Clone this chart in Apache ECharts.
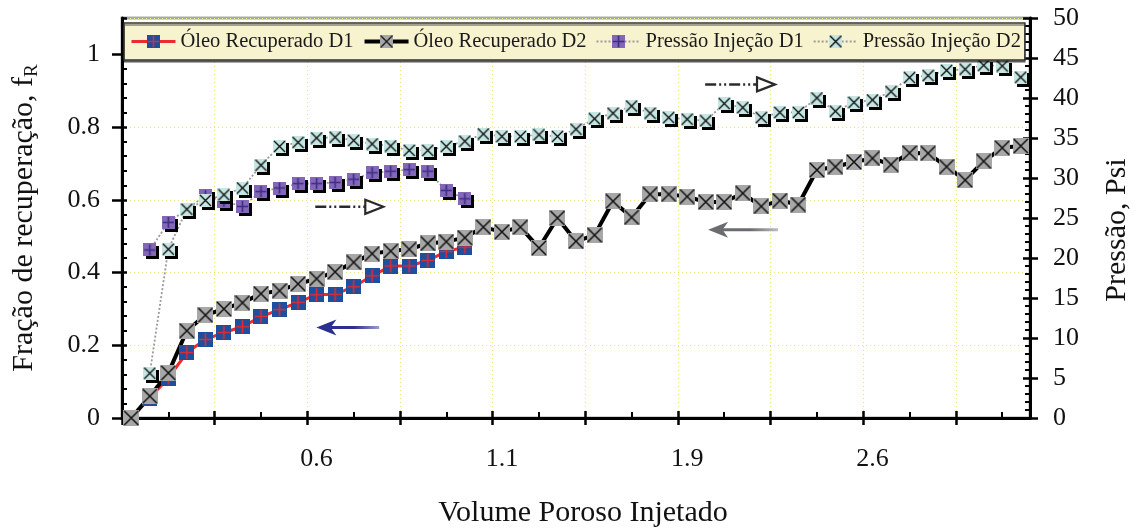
<!DOCTYPE html>
<html lang="pt">
<head>
<meta charset="utf-8">
<title>Fração de recuperação e pressão de injeção</title>
<script src="https://cdn.jsdelivr.net/npm/echarts@6/dist/echarts.min.js"></script>
<style>
  html, body { margin: 0; padding: 0; background: #ffffff; }
  #chart { width: 1135px; height: 528px; }
</style>
</head>
<body>
<div id="chart"></div>
<script>
// ---- data -------------------------------------------------------------
// one category band per measurement step along the injected pore volume
const sampleCount = 49;
const samples = [];
for (let i = 0; i < sampleCount; i++) samples.push(String(i));

// pore-volume labels shown under the axis, and the step each one sits on
const pvTickAt = [10, 20, 30, 40];
const pvTickLabels = ['0.6', '1.1', '1.9', '2.6'];

// recovery fraction (left axis)
const oilD1 = [0, 0.055, 0.11, 0.18, 0.216, 0.235, 0.251, 0.279, 0.298, 0.318,
  0.339, 0.340, 0.361, 0.391, 0.418, 0.418, 0.433, 0.458, 0.470];
const oilD2 = [0, 0.06, 0.124, 0.240, 0.283, 0.300, 0.317, 0.342, 0.350, 0.369,
  0.383, 0.402, 0.428, 0.452, 0.459, 0.464, 0.480, 0.485, 0.496, 0.525,
  0.512, 0.525, 0.468, 0.550, 0.486, 0.503, 0.596, 0.552, 0.615, 0.615,
  0.609, 0.594, 0.594, 0.618, 0.582, 0.598, 0.587, 0.682, 0.691, 0.704,
  0.714, 0.697, 0.729, 0.728, 0.691, 0.654, 0.706, 0.743, 0.748];

// injection pressure in psi (right axis)
const presD1 = [null, 21.0, 24.45, 26.1, 27.8, 27.1, 26.45, 28.3, 28.75, 29.3,
  29.3, 29.45, 29.85, 30.65, 30.85, 31.05, 30.85, 28.45, 27.4];
const presD2 = [null, 5.6, 21.1, 26.1, 27.2, 27.9, 28.75, 31.6, 33.95, 34.45,
  35.0, 35.1, 34.7, 34.25, 34.0, 33.45, 33.45, 33.95, 34.6, 35.5,
  35.2, 35.2, 35.4, 35.2, 36.1, 37.4, 38.1, 39.0, 38.1, 37.55,
  37.35, 37.15, 39.3, 38.8, 37.55, 38.2, 38.2, 40.0, 38.35, 39.45,
  39.75, 40.8, 42.55, 42.8, 43.45, 43.6, 44.1, 44.0, 42.6];

const seriesNames = ['Óleo Recuperado D1', 'Óleo Recuperado D2', 'Pressão Injeção D1', 'Pressão Injeção D2'];

// ---- styling helpers ---------------------------------------------------
const FONT = '"Liberation Serif", "Times New Roman", serif';
const GRID_COLOR = '#f4dc92';
const INK = '#111111';

// square marker with a cross drawn over it, returned as an image symbol
function squareMarker(size, fill, mark, markColor, markWidth) {
  const c = document.createElement('canvas');
  c.width = size; c.height = size;
  const g = c.getContext('2d');
  g.fillStyle = fill;
  g.fillRect(0, 0, size, size);
  g.strokeStyle = markColor;
  g.lineWidth = markWidth;
  g.beginPath();
  if (mark === 'plus') {
    const m = size / 2;
    g.moveTo(m, 1); g.lineTo(m, size - 1);
    g.moveTo(1, m); g.lineTo(size - 1, m);
  } else {
    g.moveTo(1, 1); g.lineTo(size - 1, size - 1);
    g.moveTo(size - 1, 1); g.lineTo(1, size - 1);
  }
  g.stroke();
  return 'image://' + c.toDataURL();
}

const symOilD1 = squareMarker(15, '#1d4f9e', 'plus', '#e42a31', 1.6);
const symOilD2 = squareMarker(16, '#a7a7a7', 'cross', '#111111', 1.5);
const symPresD1 = squareMarker(13, '#8467b6', 'plus', '#3b2d88', 1.6);
const symPresD2 = squareMarker(13, '#c5e6e2', 'cross', '#111111', 1.4);

// tick positions of the band axis (5 steps per major division)
const majorBands = [];
for (let b = 0; b <= 45; b += 5) majorBands.push(b);
const minorBands = majorBands.map(b => b + 2.5);

const chart = echarts.init(document.getElementById('chart'), null, { renderer: 'canvas' });

const bandAxisBase = {
  type: 'value', min: 0, max: sampleCount, position: 'bottom',
  axisLine: { show: false, onZero: false },
  axisLabel: { show: false },
  splitLine: { show: false },
  minorTick: { show: false }
};

const gridLineStyle = { color: GRID_COLOR, type: [1, 3], width: 1 };

const option = {
  animation: false,
  backgroundColor: '#ffffff',
  textStyle: { fontFamily: FONT },
  grid: {
    left: 122, right: 105, top: 18, bottom: 110,
    outerBoundsMode: 'none',
    show: true, borderColor: '#a9a9a9', borderWidth: 3, backgroundColor: 'transparent'
  },
  legend: {
    data: seriesNames,
    left: 124, top: 23,
    orient: 'horizontal',
    itemGap: 9, itemWidth: 44, itemHeight: 17,
    padding: [8, 4, 8, 6],
    backgroundColor: '#f8f3cf',
    borderColor: '#333333', borderWidth: 1.5,
    shadowColor: 'rgba(0,0,0,0.45)', shadowOffsetX: 0, shadowOffsetY: 2, shadowBlur: 0,
    selectedMode: false,
    lineStyle: { width: 'inherit' },
    textStyle: { fontFamily: FONT, fontSize: 20.5, color: '#1a1a1a' }
  },
  xAxis: [
    {
      // measurement steps; carries the pore-volume labels
      type: 'category', data: samples, boundaryGap: true, position: 'bottom',
      axisLine: { show: false, onZero: false },
      axisTick: { show: false },
      splitLine: { show: false },
      axisLabel: {
        interval: (i) => pvTickAt.indexOf(i) >= 0,
        formatter: (v, i) => { const k = pvTickAt.indexOf(i); return k >= 0 ? pvTickLabels[k] : ''; },
        margin: 28, fontSize: 26, color: INK, fontFamily: FONT
      },
      name: 'Volume Poroso Injetado', nameLocation: 'middle', nameGap: 80,
      nameTextStyle: { fontFamily: FONT, fontSize: 30, color: INK, padding: [0, 0, 0, 14] }
    },
    Object.assign({}, bandAxisBase, {
      // axis line, inner major ticks and vertical grid lines
      interval: 5,
      axisLine: { show: true, onZero: false, lineStyle: { color: '#000', width: 3 } },
      axisTick: { show: true, inside: true, length: 7, lineStyle: { color: '#000', width: 2.5 } },
      splitLine: { show: true, lineStyle: gridLineStyle }
    }),
    Object.assign({}, bandAxisBase, {
      // outer part of the major ticks
      axisTick: { show: true, inside: false, length: 7, customValues: majorBands, lineStyle: { color: '#000', width: 2.5 } }
    }),
    Object.assign({}, bandAxisBase, {
      // minor ticks halfway between majors
      axisTick: { show: true, inside: true, length: 6, customValues: minorBands, lineStyle: { color: '#000', width: 2 } }
    })
  ],
  yAxis: [
    {
      type: 'value', position: 'left', min: 0, max: 1.1, interval: 0.2,
      axisLine: { show: true, onZero: false, lineStyle: { color: '#000', width: 3 } },
      axisTick: { show: true, inside: true, length: 5, lineStyle: { color: '#000', width: 2.5 } },
      minorTick: { show: true, splitNumber: 5, length: 5, lineStyle: { color: '#000', width: 2 } },
      axisLabel: { margin: 22, fontSize: 26, color: INK, fontFamily: FONT, showMaxLabel: false },
      splitLine: { show: true, lineStyle: gridLineStyle },
      name: '{t|Fração de recuperação, f}{s|R}',
      nameLocation: 'middle', nameGap: 80,
      nameTextStyle: {
        fontFamily: FONT, fontSize: 30, color: INK,
        rich: {
          t: { fontFamily: FONT, fontSize: 30, color: INK, verticalAlign: 'top' },
          s: { fontFamily: FONT, fontSize: 19, color: INK, verticalAlign: 'bottom', padding: [14, 0, 0, 0] }
        }
      }
    },
    {
      type: 'value', position: 'right', min: 0, max: 50, interval: 5,
      axisLine: { show: true, onZero: false, lineStyle: { color: '#000', width: 3 } },
      axisTick: { show: true, inside: true, length: 7, lineStyle: { color: '#000', width: 2.5 } },
      minorTick: { show: true, splitNumber: 5, length: 5, lineStyle: { color: '#000', width: 2 } },
      axisLabel: { margin: 23, fontSize: 26, color: INK, fontFamily: FONT },
      splitLine: { show: false },
      name: 'Pressão, Psi', nameLocation: 'middle', nameGap: 72,
      nameTextStyle: { fontFamily: FONT, fontSize: 30, color: INK, padding: [0, 24, 0, 0] }
    },
    {
      // outer part of the left major ticks
      type: 'value', position: 'left', min: 0, max: 1.1, interval: 0.2,
      axisLine: { show: false, onZero: false },
      axisTick: { show: true, inside: false, length: 10, customValues: [0, 0.2, 0.4, 0.6, 0.8, 1.0], lineStyle: { color: '#000', width: 2.5 } },
      axisLabel: { show: false }, splitLine: { show: false }
    },
    {
      // outer part of the right major ticks
      type: 'value', position: 'right', min: 0, max: 50, interval: 5,
      axisLine: { show: false, onZero: false },
      axisTick: { show: true, inside: false, length: 8, lineStyle: { color: '#000', width: 2.5 } },
      axisLabel: { show: false }, splitLine: { show: false }
    }
  ],
  series: [
    {
      name: seriesNames[0], type: 'line', xAxisIndex: 0, yAxisIndex: 0,
      data: oilD1, symbol: symOilD1, symbolSize: 15, showAllSymbol: true,
      lineStyle: { color: '#ee2a2e', width: 3 }, itemStyle: { color: '#ee2a2e' },
      emphasis: { disabled: true }, silent: true
    },
    {
      name: seriesNames[1], type: 'line', xAxisIndex: 0, yAxisIndex: 0,
      data: oilD2, symbol: symOilD2, symbolSize: 16, showAllSymbol: true,
      lineStyle: { color: '#000000', width: 4 }, itemStyle: { color: '#000000' },
      emphasis: { disabled: true }, silent: true
    },
    {
      name: seriesNames[2], type: 'line', xAxisIndex: 0, yAxisIndex: 1,
      data: presD1, symbol: symPresD1, symbolSize: 13, showAllSymbol: true,
      lineStyle: { color: '#9a9a9a', width: 1.8, type: [2, 2] },
      itemStyle: { color: '#8467b6', shadowColor: '#000', shadowOffsetX: 3, shadowOffsetY: 3, shadowBlur: 0 },
      emphasis: { disabled: true }, silent: true
    },
    {
      name: seriesNames[3], type: 'line', xAxisIndex: 0, yAxisIndex: 1,
      data: presD2, symbol: symPresD2, symbolSize: 13, showAllSymbol: true,
      lineStyle: { color: '#9a9a9a', width: 1.8, type: [2, 2] },
      itemStyle: { color: '#c5e6e2', shadowColor: '#000', shadowOffsetX: 3, shadowOffsetY: 3, shadowBlur: 0 },
      emphasis: { disabled: true }, silent: true
    }
  ]
};

chart.setOption(option);

// ---- direction arrows: which curve belongs to which axis --------------
// positions are given in band units (x) and in the units of the axis they point to
const arrowNotes = [
  { from: [13.88, 0.249], to: [10.49, 0.249], yAxis: 0, style: 'solid', color: '#2b2f8f', fade: '#9a9dd0' },
  { from: [35.40, 0.518], to: [31.63, 0.518], yAxis: 0, style: 'solid', color: '#6b6c70', fade: '#bdbdbd' },
  { from: [10.43, 26.4], to: [14.10, 26.4], yAxis: 1, style: 'dashdot', color: '#2a2a2a' },
  { from: [31.47, 41.7], to: [35.24, 41.7], yAxis: 1, style: 'dashdot', color: '#2a2a2a' }
];

function toPx(b, v, yIdx) {
  return [chart.convertToPixel({ xAxisIndex: 1 }, b), chart.convertToPixel({ yAxisIndex: yIdx }, v)];
}

const graphics = [];
arrowNotes.forEach(n => {
  const a = toPx(n.from[0], n.from[1], n.yAxis);
  const t = toPx(n.to[0], n.to[1], n.yAxis);
  const dir = Math.sign(t[0] - a[0]);
  const y = t[1];
  if (n.style === 'solid') {
    const L = 20, h = 8;
    graphics.push({
      type: 'line', silent: true, z: 20,
      shape: { x1: a[0], y1: y, x2: t[0] - dir * L * 0.7, y2: y },
      style: {
        lineWidth: 3,
        stroke: { type: 'linear', global: true, x: t[0], y: y, x2: a[0], y2: y,
          colorStops: [{ offset: 0, color: n.color }, { offset: 0.6, color: n.color }, { offset: 1, color: n.fade }] }
      }
    });
    graphics.push({
      type: 'polygon', silent: true, z: 21,
      shape: { points: [[t[0], y], [t[0] - dir * L, y - h], [t[0] - dir * L * 0.72, y], [t[0] - dir * L, y + h]] },
      style: { fill: n.color }
    });
  } else {
    const L = 18, h = 7;
    graphics.push({
      type: 'line', silent: true, z: 20,
      shape: { x1: a[0], y1: y, x2: t[0] - dir * L, y2: y },
      style: { stroke: n.color, lineWidth: 2.5, lineDash: [11, 3, 2, 3, 2, 3] }
    });
    graphics.push({
      type: 'polygon', silent: true, z: 21,
      shape: { points: [[t[0] - dir * L, y - h], [t[0], y], [t[0] - dir * L, y + h]] },
      style: { fill: '#ffffff', stroke: n.color, lineWidth: 2.2, lineJoin: 'miter' }
    });
  }
});
chart.setOption({ graphic: graphics });
</script>
</body>
</html>
